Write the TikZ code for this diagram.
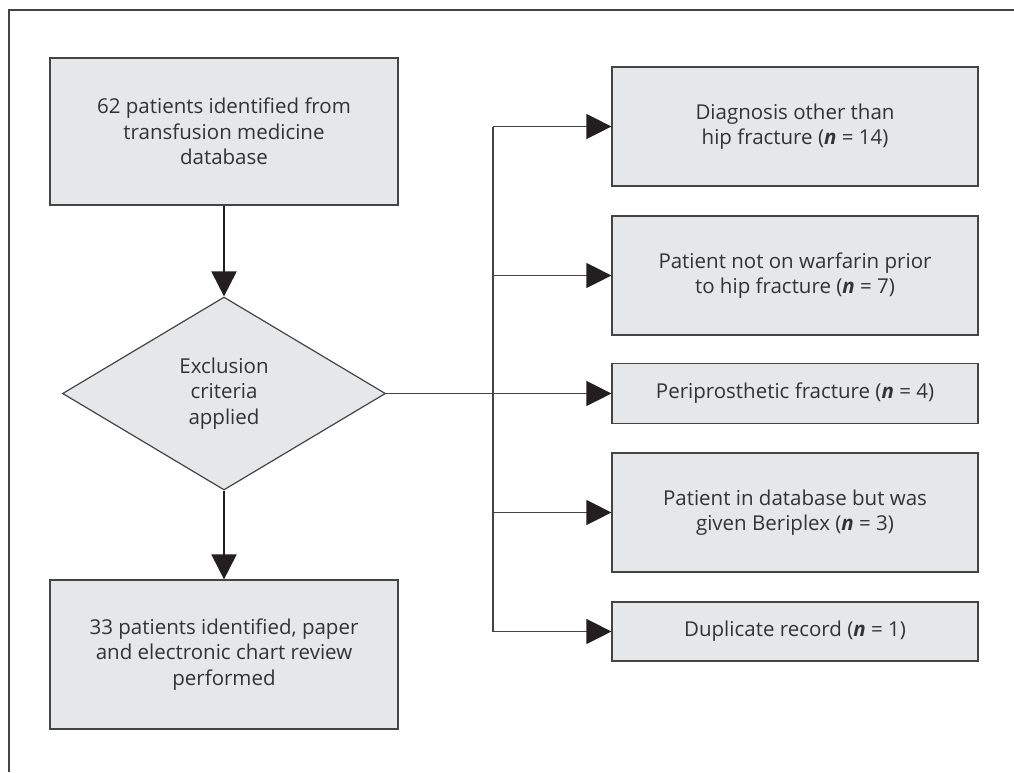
\documentclass[tikz,border=0pt]{standalone}
\usepackage{fontspec}
\setmainfont{Open Sans}
\usepackage{tikz}
\usetikzlibrary{arrows.meta,shapes.geometric}
\definecolor{FCline}{HTML}{444444}
\definecolor{FCfill}{HTML}{E6E7E9}
\definecolor{FCtext}{HTML}{333333}
\definecolor{FCarrow}{HTML}{231F20}
\newcommand{\nbi}{\textbf{\textit{n}}}

\begin{document}
\begin{tikzpicture}[x=1pt, y=-1pt,
    box/.style={rectangle, draw=FCline, line width=1.2pt, fill=FCfill, text=FCtext,
                align=center, inner sep=0pt, font=\fontsize{20.5}{25.5}\selectfont},
    exbox/.style={box, minimum width=366pt},
    dec/.style={diamond, draw=FCline, line width=1.2pt, fill=FCfill, text=FCtext,
                align=center, inner sep=0pt, minimum width=323pt, minimum height=193pt,
                font=\fontsize{20.5}{25.5}\selectfont},
    flow/.style={draw=FCarrow, line width=2pt, -{Triangle[length=25pt,width=25pt]}},
    branch/.style={draw=FCline, line width=1.2pt},
    brarrow/.style={branch, -{Triangle[length=25pt,width=25pt,color=FCarrow]}}]
  \useasboundingbox (0,0) rectangle (1014,772);
  \draw[FCline, line width=1.2pt] (1014,10) -- (9,10) -- (9,772);

  % main column
  \node[box, minimum width=348pt, minimum height=147pt] (found) at (224,131.5)
       {62 patients identified from\\transfusion medicine\\database};
  \node[dec] (excl) at (224,393.5) {Exclusion\\criteria\\applied};
  \node[box, minimum width=348pt, minimum height=149pt] (kept) at (224,654.5)
       {33 patients identified, paper\\and electronic chart review\\performed};
  \draw[flow] (found) -- (excl);
  \draw[flow] (excl) -- (kept);

  % excluded records
  \node[exbox, minimum height=119pt] (ex1) at (795,126.5)
       {Diagnosis other than\\hip fracture (\nbi{} = 14)};
  \node[exbox, minimum height=119pt] (ex2) at (795,275.5)
       {Patient not on warfarin prior\\to hip fracture (\nbi{} = 7)};
  \node[exbox, minimum height=60pt] (ex3) at (795,393.5)
       {Periprosthetic fracture (\nbi{} = 4)};
  \node[exbox, minimum height=119pt] (ex4) at (795,512.5)
       {Patient in database but was\\given Beriplex (\nbi{} = 3)};
  \node[exbox, minimum height=59pt] (ex5) at (795,631.5)
       {Duplicate record (\nbi{} = 1)};

  \coordinate (trunk) at (493,393.5);
  \draw[brarrow] (excl.east) -- (ex3.west);
  \draw[branch] (ex1.west -| trunk) -- (ex5.west -| trunk);
  \foreach \i in {1,2,4,5}
    \draw[brarrow] (ex\i.west -| trunk) -- (ex\i.west);
\end{tikzpicture}
\end{document}
